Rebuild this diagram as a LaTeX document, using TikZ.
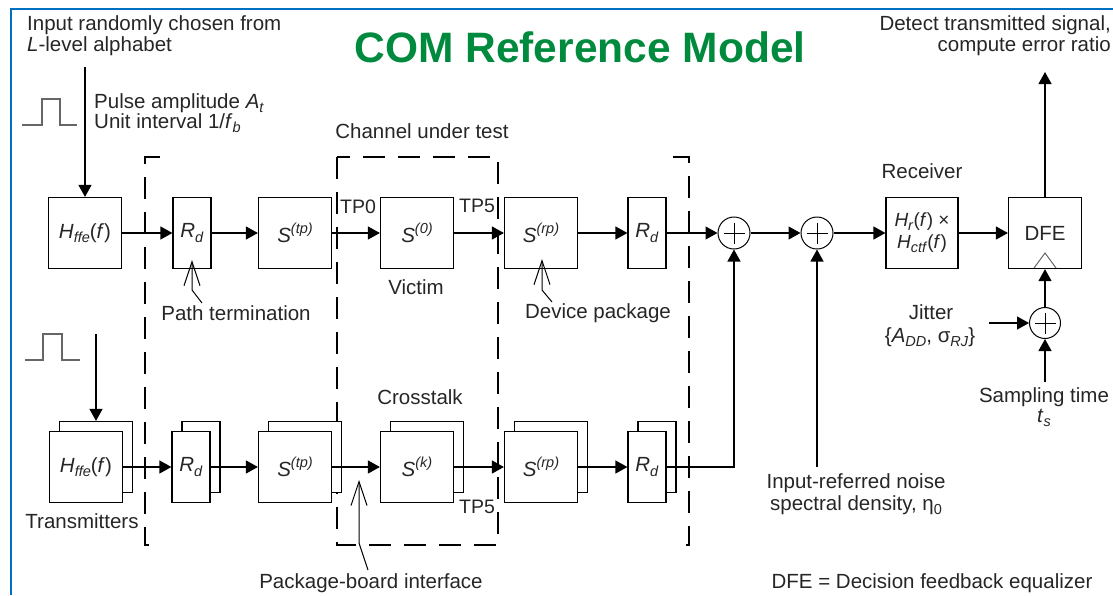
\documentclass[tikz,border=0pt]{standalone}
\usepackage{fontspec}
\setmainfont{Liberation Sans}
\usetikzlibrary{arrows.meta,positioning,calc}
\definecolor{titlegreen}{RGB}{0,138,62}
\definecolor{frameblue}{RGB}{0,112,192}
\newcommand{\lowix}[1]{\raisebox{-0.22em}{\fontsize{14.5}{15}\selectfont\textit{#1}}}
\newcommand{\highix}[1]{\raisebox{0.42em}{\fontsize{14.5}{15}\selectfont\textit{#1}}}
\newcommand{\vsub}[2]{\textit{#1}\lowix{#2}}
\newcommand{\vsup}[2]{\textit{#1}\highix{#2}}

\begin{document}
\begin{tikzpicture}[x=1pt,y=-1pt,>={Triangle[length=12pt,width=13pt]},
  every node/.style={inner sep=0pt,text=black!85,font=\fontsize{20.5}{21}\selectfont},
  blk/.style={draw,line width=1.2pt,fill=white,minimum width=73pt,minimum height=71pt},
  rblk/.style={blk,minimum width=38pt},
  sumnode/.style={circle,draw,line width=1pt,fill=white,minimum size=32pt,
    path picture={\draw[line width=1pt] (path picture bounding box.center) +(-10.5,0) -- +(10.5,0)
      (path picture bounding box.center) +(0,-10.5) -- +(0,10.5);}},
  flow/.style={->,line width=1.2pt},
  grp/.style={line width=1.2pt,dash pattern=on 22pt off 13pt},
  ptr/.style={line width=1pt,-{Straight Barb[length=24pt,width=16pt]}},
  tp/.style={font=\fontsize{19.5}{20}\selectfont}]
  \useasboundingbox (0,0) rectangle (1113,595);
  \draw[frameblue,line width=2.5pt] (11,595) -- (11,9) -- (1113,9);
  % package / channel groups
  \draw[grp] (337,157) rectangle (498,545);
  \draw[grp] (160,157) -- (145,157) -- (145,545) -- (160,545);
  \draw[grp] (673,157) -- (689,157) -- (689,545) -- (673,545);
  % pulses
  \draw[line width=1.2pt,black!60] (22,125) -- (42,125) -- (42,99) -- (60,99) -- (60,125) -- (77,125);
  \draw[line width=1.2pt,black!60] (25,360) -- (43,360) -- (43,334) -- (62,334) -- (62,360) -- (80,360);
  % victim path
  \node[blk] (hffeA) at (85,233) {\vsub{H}{ffe}(\textit{f})};
  \node[rblk] (rdA) at (192,233) {\vsub{R}{d}};
  \node[blk] (stpA) at (295,233) {\vsup{S}{(tp)}};
  \node[blk] (s0) at (417,233) {\vsup{S}{(0)}};
  \node[blk] (srpA) at (541,233) {\vsup{S}{(rp)}};
  \node[rblk] (rdB) at (647,233) {\vsub{R}{d}};
  \node[sumnode] (sumA) at (734,233) {};
  \node[sumnode] (sumB) at (817,233) {};
  \node[blk,minimum width=72pt,align=center,font=\fontsize{19}{22}\selectfont] (rx) at (922,233)
    {\vsub{H}{r}(\textit{f}) ×\\\vsub{H}{ctf}(\textit{f})};
  \node[blk] (dfe) at (1045,233) {DFE};
  \draw[line width=1pt,black!60] (1034,268) -- (1045,253) -- (1056,268);
  \node[sumnode,minimum size=31pt] (sumC) at (1045,323) {};
  % crosstalk path
  \foreach \n/\x/\s in {hffeX/86/blk,rdX/191/rblk,stpX/295/blk,sk/417/blk,srpX/541/blk,rdY/647/rblk}
    \node[\s] (\n b) at (\x+10,457) {};
  \node[blk] (hffeX) at (86,467) {\vsub{H}{ffe}(\textit{f})};
  \node[rblk] (rdX) at (191,467) {\vsub{R}{d}};
  \node[blk] (stpX) at (295,467) {\vsup{S}{(tp)}};
  \node[blk] (sk) at (417,467) {\vsup{S}{(k)}};
  \node[blk] (srpX) at (541,467) {\vsup{S}{(rp)}};
  \node[rblk] (rdY) at (647,467) {\vsub{R}{d}};
  % connectors
  \coordinate (pinA) at (85,67);
  \coordinate (pinX) at (96,334);
  \draw[flow] (pinA) -- (hffeA);
  \draw[flow] (pinX) -- (hffeXb.north);
  \draw[flow] (hffeA) -- (rdA);
  \draw[flow] (rdA) -- (stpA);
  \draw[flow] (stpA) -- (s0);
  \draw[flow] (s0) -- (srpA);
  \draw[flow] (srpA) -- (rdB);
  \draw[flow] (rdB) -- (sumA);
  \draw[flow] (sumA) -- (sumB);
  \draw[flow] (sumB) -- (rx);
  \draw[flow] (rx) -- (dfe);
  \draw[flow] (hffeX) -- (rdX);
  \draw[flow] (rdX) -- (stpX);
  \draw[flow] (stpX) -- (sk);
  \draw[flow] (sk) -- (srpX);
  \draw[flow] (srpX) -- (rdY);
  \draw[flow] (rdY.east) -| (sumA.south);
  \coordinate (noise) at (817,467);
  \draw[flow] (noise) -- (sumB.south);
  \coordinate (detect) at (1045,72);
  \draw[flow] (dfe.north) -- (detect);
  \coordinate (jit) at (989,323);
  \draw[flow] (jit) -- (sumC.west);
  \coordinate (samp) at (1045,382);
  \draw[flow] (samp) -- (sumC.south);
  \draw[flow] (sumC.north) -- (dfe.south);
  % labels
  \node[font=\bfseries\fontsize{42.5}{44}\selectfont,text=titlegreen,anchor=base] (title) at (580,62) {COM Reference Model};
  \node[anchor=base west] (inA) at (27,30) {Input randomly chosen from};
  \node[anchor=base west] (inB) at (27,51) {\textit{L}-level alphabet};
  \node[anchor=base west] (pulA) at (94,108) {Pulse amplitude \vsub{A}{t}};
  \node[anchor=base west] (pulB) at (94,128) {Unit interval 1/\vsub{f}{b}};
  \node[anchor=base] (cut) at (422,138) {Channel under test};
  \node[tp,anchor=base] (tp0) at (358,213) {TP0};
  \node[tp,anchor=base] (tp5) at (477,212) {TP5};
  \node[tp,anchor=base] (tp5x) at (477,513) {TP5};
  \node[anchor=base] (victim) at (416,294) {Victim};
  \node[anchor=base] (lpath) at (236,320) {Path termination};
  \node[anchor=base] (ldev) at (598,318) {Device package};
  \node[anchor=base] (xtalk) at (420,404) {Crosstalk};
  \node[anchor=base] (txs) at (82,528) {Transmitters};
  \node[anchor=base] (lpkb) at (371,588) {Package-board interface};
  \node[anchor=base] (rxl) at (922,178) {Receiver};
  \node[anchor=base east] (detA) at (1111,30) {Detect transmitted signal,};
  \node[anchor=base east] (detB) at (1111,51) {compute error ratio};
  \node[anchor=base] (jitA) at (931,319) {Jitter};
  \node[anchor=base] (jitB) at (930,342) {\{\vsub{A}{DD}, σ\lowix{RJ}\}};
  \node[anchor=base] (smpA) at (1044,402) {Sampling time};
  \node[anchor=base] (smpB) at (1044,422) {\vsub{t}{s}};
  \node[anchor=base] (nzA) at (856,488) {Input-referred noise};
  \node[anchor=base] (nzB) at (856,510) {spectral density, η\raisebox{-0.22em}{\fontsize{14.5}{15}\selectfont 0}};
  \node[anchor=base] (dfel) at (932,588) {DFE = Decision feedback equalizer};
  % pointers
  \coordinate (ptA) at (202,303);
  \coordinate (ptB) at (552,302);
  \coordinate (ptC) at (368,570);
  \draw[ptr] (ptA) -- (192,290) -- ($(rdA.south)+(0,-9)$);
  \draw[ptr] (ptB) -- (542,290) -- ($(srpA.south)+(1,-10)$);
  \draw[ptr] (ptC) -- (359,543) -- (359,480);
\end{tikzpicture}
\end{document}
